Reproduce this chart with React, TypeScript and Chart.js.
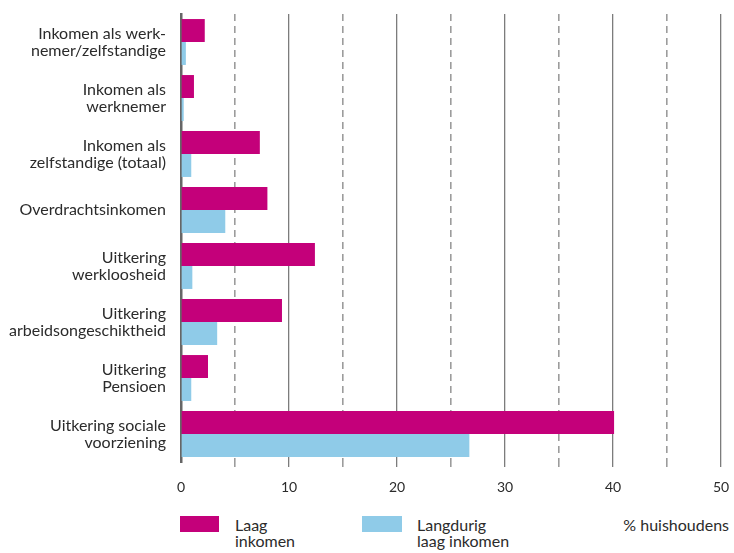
import React, { useEffect, useRef } from "react";
import { Chart, registerables } from "chart.js";

Chart.register(...registerables);

const categories: string[][] = [
  ["Inkomen als werk-", "nemer/zelfstandige"],
  ["Inkomen als", "werknemer"],
  ["Inkomen als", "zelfstandige (totaal)"],
  ["Overdrachtsinkomen"],
  ["Uitkering", "werkloosheid"],
  ["Uitkering", "arbeidsongeschiktheid"],
  ["Uitkering", "Pensioen"],
  ["Uitkering sociale", "voorziening"],
];

const laagInkomen: number[] = [2.2, 1.2, 7.3, 8.0, 12.4, 9.35, 2.5, 40.1];
const langdurigLaagInkomen: number[] = [0.45, 0.25, 0.95, 4.1, 1.05, 3.35, 0.95, 26.7];

const seriesNames: string[] = ["Laag inkomen", "Langdurig laag inkomen"];
const legendLines: string[][] = [
  ["Laag", "inkomen"],
  ["Langdurig", "laag inkomen"],
];
const unitLabel = "% huishoudens";

const PINK = "#C4007A";
const BLUE = "#8FCBE8";
const FONT = "Lato, 'DejaVu Sans', sans-serif";
const TEXT = "#2b2b2b";

export default function App() {
  const ref = useRef<HTMLCanvasElement | null>(null);

  useEffect(() => {
    if (!ref.current) return;
    const chart = new Chart(ref.current, {
      type: "bar",
      data: {
        labels: categories,
        datasets: [
          {
            label: seriesNames[0],
            data: laagInkomen,
            backgroundColor: PINK,
            borderWidth: 0,
            categoryPercentage: 0.82,
            barPercentage: 1,
          },
          {
            label: seriesNames[1],
            data: langdurigLaagInkomen,
            backgroundColor: BLUE,
            borderWidth: 0,
            categoryPercentage: 0.82,
            barPercentage: 1,
          },
        ],
      },
      options: {
        indexAxis: "y",
        responsive: false,
        animation: false,
        devicePixelRatio: 1,
        layout: { padding: { top: 14, right: 13, left: 0, bottom: 0 } },
        plugins: {
          legend: { display: false },
          tooltip: { enabled: false },
        },
        scales: {
          x: {
            type: "linear",
            min: 0,
            max: 50,
            afterFit: (scale: any) => {
              scale.height = 43;
              scale.paddingLeft = 0;
              scale.paddingRight = 0;
            },
            ticks: {
              stepSize: 5,
              autoSkip: false,
              maxRotation: 0,
              padding: 12,
              color: TEXT,
              font: { family: FONT, size: 14 },
              callback: (v: any) => (Number(v) % 10 === 0 ? String(v) : ""),
            },
            grid: {
              drawTicks: true,
              tickLength: 5,
              color: (ctx: any) => {
                const v = ctx.tick ? ctx.tick.value : 0;
                if (v === 0) return "rgba(0,0,0,0)";
                return v % 10 === 0 ? "#7c7c7c" : "#9c9c9c";
              },
              lineWidth: (ctx: any) => {
                const v = ctx.tick ? ctx.tick.value : 0;
                return v % 10 === 0 ? 1.3 : 1.6;
              },
            },
            border: {
              display: false,
              dash: (ctx: any) => {
                const v = ctx.tick ? ctx.tick.value : 0;
                return v % 10 === 0 ? [] : [7, 5];
              },
            },
          },
          y: {
            type: "category",
            afterFit: (scale: any) => {
              scale.width = 181;
              scale.paddingTop = 0;
              scale.paddingBottom = 0;
            },
            ticks: {
              padding: 15,
              color: TEXT,
              font: { family: FONT, size: 16, lineHeight: 1.08 },
            },
            grid: { display: false, drawTicks: false, tickLength: 0 },
            border: { display: true, color: "#666666", width: 2.5 },
          },
        },
      },
    });
    return () => chart.destroy();
  }, []);

  const textStyle: React.CSSProperties = {
    position: "absolute",
    top: 517,
    fontFamily: FONT,
    fontSize: 16,
    lineHeight: "16px",
    color: TEXT,
    whiteSpace: "nowrap",
  };

  return (
    <div
      style={{
        position: "absolute",
        left: 0,
        top: 0,
        width: 734,
        height: 553,
        background: "#ffffff",
        overflow: "hidden",
      }}
    >
      <canvas ref={ref} width={734} height={505} style={{ display: "block", width: 734, height: 505 }} />
      <div style={{ position: "absolute", left: 180, top: 516, width: 39, height: 16, background: PINK }} />
      <div style={{ ...textStyle, left: 235 }}>
        {legendLines[0][0]}
        <br />
        {legendLines[0][1]}
      </div>
      <div style={{ position: "absolute", left: 362, top: 516, width: 40, height: 16, background: BLUE }} />
      <div style={{ ...textStyle, left: 417 }}>
        {legendLines[1][0]}
        <br />
        {legendLines[1][1]}
      </div>
      <div style={{ ...textStyle, right: 5, textAlign: "right" }}>{unitLabel}</div>
    </div>
  );
}
